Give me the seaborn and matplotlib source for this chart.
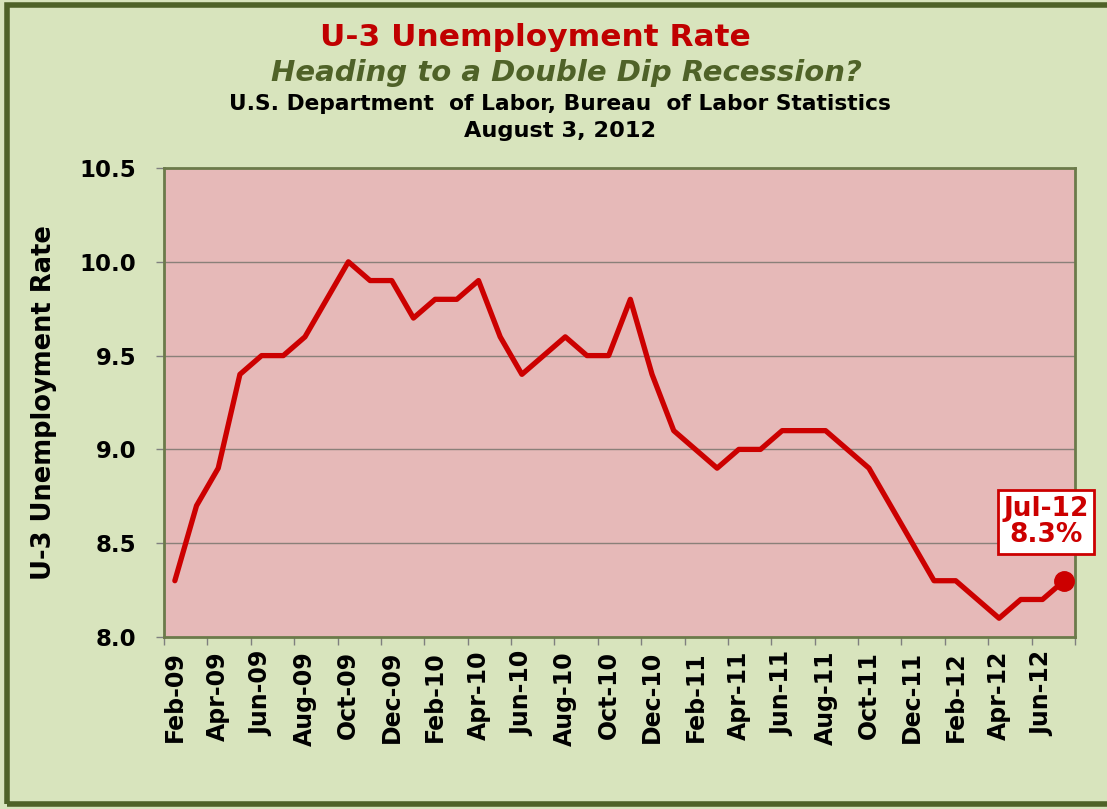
import matplotlib
matplotlib.use("Agg")
import matplotlib.pyplot as plt
import seaborn as sns
import pandas as pd
import numpy as np
from matplotlib.patches import Rectangle

months = ["Feb-09", "Mar-09", "Apr-09", "May-09", "Jun-09", "Jul-09", "Aug-09", "Sep-09",
          "Oct-09", "Nov-09", "Dec-09", "Jan-10", "Feb-10", "Mar-10", "Apr-10", "May-10",
          "Jun-10", "Jul-10", "Aug-10", "Sep-10", "Oct-10", "Nov-10", "Dec-10", "Jan-11",
          "Feb-11", "Mar-11", "Apr-11", "May-11", "Jun-11", "Jul-11", "Aug-11", "Sep-11",
          "Oct-11", "Nov-11", "Dec-11", "Jan-12", "Feb-12", "Mar-12", "Apr-12", "May-12",
          "Jun-12", "Jul-12"]
rate = [8.3, 8.7, 8.9, 9.4, 9.5, 9.5, 9.6, 9.8,
        10.0, 9.9, 9.9, 9.7, 9.8, 9.8, 9.9, 9.6,
        9.4, 9.5, 9.6, 9.5, 9.5, 9.8, 9.4, 9.1,
        9.0, 8.9, 9.0, 9.0, 9.1, 9.1, 9.1, 9.0,
        8.9, 8.7, 8.5, 8.3, 8.3, 8.2, 8.1, 8.2,
        8.2, 8.3]
y_ticks = [8.0, 8.5, 9.0, 9.5, 10.0, 10.5]

BG = "#d8e4bd"
PLOT_BG = "#e6b9b8"
OLIVE = "#4f6228"
RED = "#cc0000"

sns.set_style("white")
plt.rcParams['font.family'] = ['DejaVu Sans']

df = pd.DataFrame({"idx": np.arange(len(months)), "month": months, "rate": rate})

fig = plt.figure(figsize=(11.07, 8.09), dpi=100, facecolor=BG)
ax = fig.add_axes([164/1107, 1-637/809, (1075-164)/1107, (637-168)/809])
ax.set_facecolor(PLOT_BG)

for yv in y_ticks[1:-1]:
    ax.axhline(yv, color="#8a8079", lw=1.0, zorder=1)

sns.lineplot(data=df, x="idx", y="rate", ax=ax, color=RED, lw=3.8, zorder=3)
last = df.iloc[-1]
ax.plot([last["idx"]], [last["rate"]], "o", color=RED, ms=14, zorder=4)

ax.set_xlim(-0.5, len(months) - 0.5)
ax.set_ylim(8.0, 10.5)
ax.set_yticks(y_ticks)
ax.set_yticklabels([f"{v:.1f}" for v in y_ticks], fontsize=16.5, fontweight="heavy", color="black")
ax.set_xticks(df["idx"][::2])
ax.set_xticklabels(df["month"][::2], rotation=90, fontsize=17, fontweight="heavy", color="black")
ax.set_xticks(np.arange(-0.5, len(months), 2), minor=True)
ax.tick_params(axis="x", which="major", length=0, pad=10)
ax.tick_params(axis="x", which="minor", length=6, color="#7f7f7f", width=1, bottom=True)
ax.tick_params(axis="y", length=6, color="#7f7f7f", width=1, left=True, pad=14)
ax.set_xlabel("")
ax.set_ylabel("U-3 Unemployment Rate", fontsize=18.5, fontweight="heavy", color="black")
ax.yaxis.set_label_coords(-0.118, 0.5)
for s in ax.spines.values():
    s.set_color("#6b7a4a")
    s.set_linewidth(2)

ax.annotate("Jul-12\n8.3%", xy=(last["idx"], last["rate"]), xytext=(1046/1107, 1-522/809),
            textcoords="figure fraction", ha="center", va="center",
            fontsize=19, fontweight="bold", color=RED, linespacing=1.05,
            bbox=dict(boxstyle="square,pad=0.2", fc="white", ec=RED, lw=2))

fig.text(535/1107, 1-38/809, "U-3 Unemployment Rate", ha="center", va="center",
         fontsize=22.5, fontweight="bold", color="#c00000")
fig.text(566/1107, 1-73/809, "Heading to a Double Dip Recession?", ha="center", va="center",
         fontsize=21, fontweight="bold", style="italic", color=OLIVE)
fig.text(560/1107, 1-104/809, "U.S. Department  of Labor, Bureau  of Labor Statistics", ha="center",
         va="center", fontsize=15.7, fontweight="bold", color="black")
fig.text(560/1107, 1-131/809, "August 3, 2012", ha="center", va="center",
         fontsize=16.2, fontweight="bold", color="black")

fig.patches.append(Rectangle((7/1107, 5/809), 1.2, 1-10/809, transform=fig.transFigure,
                             fill=False, ec=OLIVE, lw=4, zorder=0))

fig.savefig("out.png", dpi=100, facecolor=BG)
